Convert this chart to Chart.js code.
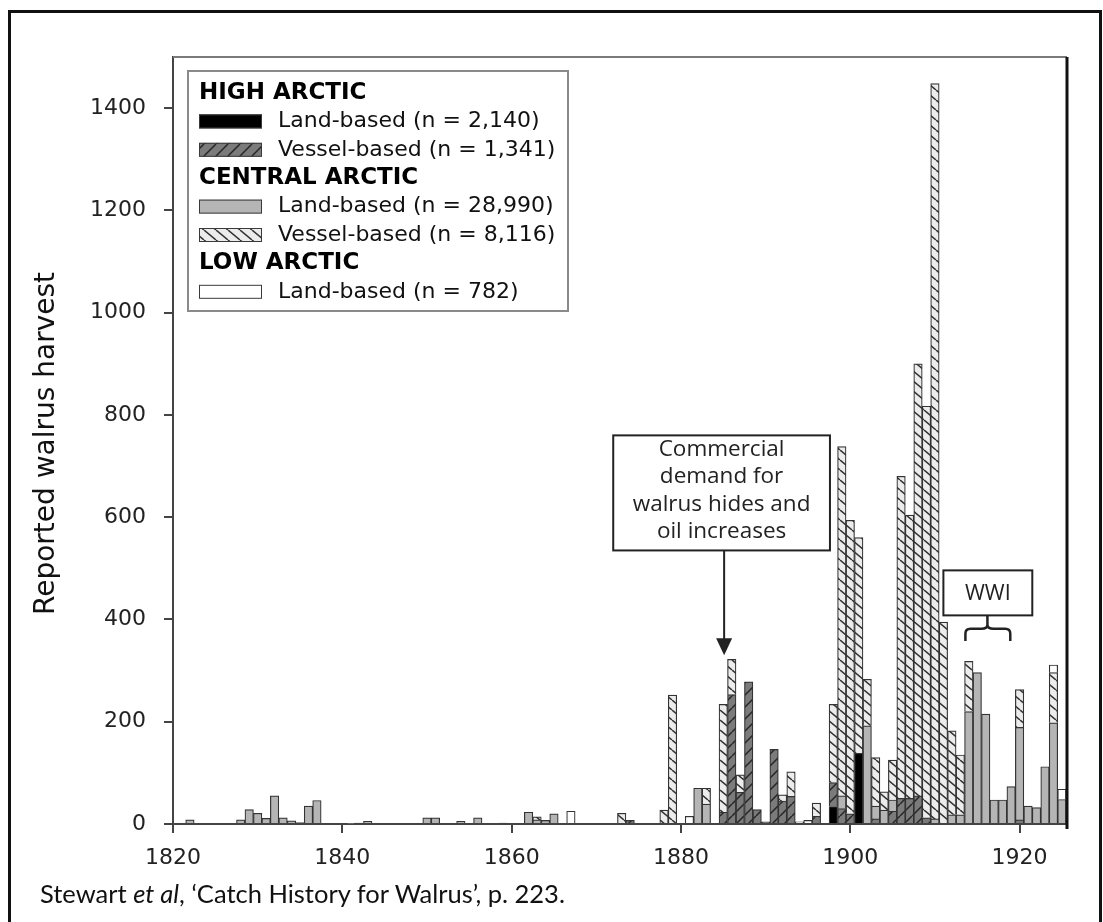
<!DOCTYPE html>
<html>
<head>
<meta charset="utf-8">
<script src="https://cdn.jsdelivr.net/npm/chart.js@4.4.1/dist/chart.umd.min.js"></script>
<style>
  html, body { margin: 0; padding: 0; background: #fff; overflow: hidden; }
  #frame { position: absolute; left: 8px; top: 10px; width: 1094px; height: 1000px; border: 3px solid #111; box-sizing: border-box; }
  #wrap { position: absolute; left: 0; top: 0; width: 1103px; height: 922px; }
  #caption { position: absolute; left: 40px; top: 878px; line-height: 30px; font-family: Lato, sans-serif; font-size: 25.5px; color: #111; white-space: nowrap; }
</style>
</head>
<body>
<div id="frame"></div>
<div id="wrap"><canvas id="chart"></canvas></div>
<div id="caption">Stewart <i>et al</i>, ‘Catch History for Walrus’, p. 223.</div>
<script>
// values, one pair of arrays per series
const highLandYears = [1898, 1901];
const highLandValues = [34, 138];

const highVesselYears = [1874, 1885, 1886, 1887, 1888, 1889, 1890, 1891, 1892, 1893, 1896, 1898, 1899, 1900, 1903, 1905, 1906, 1907, 1908, 1909, 1920];
const highVesselValues = [7, 23, 253, 62, 278, 28, 4, 146, 45, 54, 15, 47, 30, 20, 10, 25, 50, 50, 55, 12, 8];

const centralLandYears = [1822, 1828, 1829, 1830, 1831, 1832, 1833, 1834, 1835, 1836, 1837, 1841, 1842, 1843, 1850, 1851, 1854, 1856, 1859, 1862, 1863, 1864, 1865, 1882, 1883, 1899, 1902, 1903, 1904, 1905, 1910, 1912, 1913, 1914, 1915, 1916, 1917, 1918, 1919, 1920, 1921, 1922, 1923, 1924, 1925];
const centralLandValues = [8, 8, 28, 21, 11, 55, 12, 6, 3, 35, 46, 1, 2, 5, 12, 12, 5, 12, 2, 23, 8, 7, 20, 70, 39, 25, 192, 25, 27, 22, 10, 18, 18, 220, 296, 215, 47, 47, 73, 181, 35, 32, 112, 198, 48];

const centralVesselYears = [1863, 1873, 1878, 1879, 1883, 1885, 1886, 1887, 1892, 1893, 1896, 1898, 1899, 1900, 1901, 1902, 1903, 1904, 1905, 1906, 1907, 1908, 1909, 1910, 1911, 1912, 1913, 1914, 1920, 1924];
const centralVesselValues = [6, 21, 27, 252, 31, 211, 69, 34, 12, 48, 26, 153, 683, 574, 422, 91, 95, 36, 78, 630, 554, 845, 805, 1438, 395, 164, 117, 98, 74, 98];

const lowLandYears = [1867, 1881, 1894, 1895, 1924, 1925];
const lowLandValues = [25, 15, 4, 7, 15, 20];

const xTickValues = [1820, 1840, 1860, 1880, 1900, 1920];

function makeHatch(bg, line, w, h, forward) {
    const c = document.createElement('canvas');
    c.width = w;
    c.height = h;
    const g = c.getContext('2d');
    g.fillStyle = bg;
    g.fillRect(0, 0, w, h);
    g.strokeStyle = line;
    g.lineWidth = 1.5;
    g.beginPath();
    for (const k of [-1, 0, 1]) {
        if (forward) {
            g.moveTo(k * w, h);
            g.lineTo(k * w + w, 0);
        } else {
            g.moveTo(k * w, 0);
            g.lineTo(k * w + w, h);
        }
    }
    g.stroke();
    return g.createPattern(c, 'repeat');
}

const highVesselFill = makeHatch('#7b7b7b', '#262626', 12, 12, true);
const centralVesselFill = makeHatch('#ececec', '#333333', 12, 10, false);

function points(years, values) {
    return years.map((yr, i) => ({ x: yr, y: values[i] }));
}

const legendRows = [
    { head: 'HIGH ARCTIC' },
    { label: 'Land-based (n = 2,140)', fill: '#000000' },
    { label: 'Vessel-based (n = 1,341)', fill: highVesselFill },
    { head: 'CENTRAL ARCTIC' },
    { label: 'Land-based (n = 28,990)', fill: '#b5b5b5' },
    { label: 'Vessel-based (n = 8,116)', fill: centralVesselFill },
    { head: 'LOW ARCTIC' },
    { label: 'Land-based (n = 782)', fill: '#ffffff' }
];

const commercialLines = ['Commercial', 'demand for', 'walrus hides and', 'oil increases'];

// legend, frame, y title and the two call-outs
const extras = {
    id: 'extras',
    afterDraw(chart) {
        const { ctx, chartArea: ca, scales } = chart;
        const x = scales.x, y = scales.y;
        ctx.save();

        // top and right frame of the plot
        ctx.strokeStyle = '#7a7a7a';
        ctx.lineWidth = 2;
        ctx.beginPath();
        ctx.moveTo(ca.left, ca.top);
        ctx.lineTo(ca.right, ca.top);
        ctx.stroke();
        ctx.strokeStyle = '#111';
        ctx.lineWidth = 3;
        ctx.beginPath();
        ctx.moveTo(ca.right, ca.top);
        ctx.lineTo(ca.right, ca.bottom + 5);
        ctx.stroke();

        // y title
        ctx.save();
        ctx.translate(47, (ca.top + ca.bottom) / 2 + 3);
        ctx.rotate(-Math.PI / 2);
        ctx.fillStyle = '#111';
        ctx.font = '28px "DejaVu Sans"';
        ctx.textAlign = 'center';
        ctx.textBaseline = 'middle';
        ctx.fillText('Reported walrus harvest', 0, 0);
        ctx.restore();

        // legend box
        const bx = ca.left + 15, by = ca.top + 14, bw = 380, bh = 240;
        ctx.fillStyle = '#fff';
        ctx.fillRect(bx, by, bw, bh);
        ctx.strokeStyle = '#8a8a8a';
        ctx.lineWidth = 2;
        ctx.strokeRect(bx, by, bw, bh);
        ctx.textBaseline = 'middle';
        ctx.textAlign = 'left';
        legendRows.forEach((row, i) => {
            const cy = by + 22 + i * 28.4;
            if (row.head) {
                ctx.fillStyle = '#000';
                ctx.font = 'bold 23px "DejaVu Sans"';
                ctx.fillText(row.head, bx + 11, cy);
            } else {
                ctx.fillStyle = row.fill;
                ctx.fillRect(bx + 11, cy - 7, 63, 14);
                ctx.strokeStyle = '#3a3a3a';
                ctx.lineWidth = 1;
                ctx.strokeRect(bx + 11.5, cy - 6.5, 62, 13);
                ctx.fillStyle = '#111';
                ctx.font = '22px "DejaVu Sans"';
                ctx.fillText(row.label, bx + 90, cy);
            }
        });

        // commercial demand call-out
        const cl = x.getPixelForValue(1872.0), cr = x.getPixelForValue(1897.6);
        const ct = y.getPixelForValue(760), cb = y.getPixelForValue(535);
        ctx.fillStyle = '#fff';
        ctx.fillRect(cl, ct, cr - cl, cb - ct);
        ctx.strokeStyle = '#222';
        ctx.lineWidth = 2;
        ctx.strokeRect(cl, ct, cr - cl, cb - ct);
        ctx.fillStyle = '#222';
        ctx.font = '22.5px "Open Sans"';
        ctx.textAlign = 'center';
        commercialLines.forEach((t, i) => {
            ctx.fillText(t, (cl + cr) / 2, ct + 14 + i * 27.5);
        });
        const ax = x.getPixelForValue(1885.1);
        const tip = y.getPixelForValue(330);
        ctx.beginPath();
        ctx.moveTo(ax, cb);
        ctx.lineTo(ax, tip - 14);
        ctx.stroke();
        ctx.beginPath();
        ctx.moveTo(ax - 8, tip - 17);
        ctx.lineTo(ax + 8, tip - 17);
        ctx.lineTo(ax, tip);
        ctx.closePath();
        ctx.fill();

        // WWI call-out
        const wl = x.getPixelForValue(1911.0), wr = x.getPixelForValue(1921.5);
        const wt = y.getPixelForValue(496), wb = y.getPixelForValue(408);
        ctx.fillStyle = '#fff';
        ctx.fillRect(wl, wt, wr - wl, wb - wt);
        ctx.strokeRect(wl, wt, wr - wl, wb - wt);
        ctx.fillStyle = '#222';
        ctx.font = '21.5px "Open Sans"';
        ctx.fillText('WWI', (wl + wr) / 2, (wt + wb) / 2 + 1);

        // brace under the WWI box
        const bl = x.getPixelForValue(1913.6), br = x.getPixelForValue(1918.9);
        const bm = x.getPixelForValue(1916.2);
        const by1 = y.getPixelForValue(382), by2 = y.getPixelForValue(358);
        ctx.lineWidth = 2.5;
        ctx.beginPath();
        ctx.moveTo(bm, wb);
        ctx.lineTo(bm, by1 - 4);
        ctx.quadraticCurveTo(bm, by1, bm - 6, by1);
        ctx.lineTo(bl + 5, by1);
        ctx.quadraticCurveTo(bl, by1, bl, by1 + 5);
        ctx.lineTo(bl, by2);
        ctx.moveTo(bm, by1 - 4);
        ctx.quadraticCurveTo(bm, by1, bm + 6, by1);
        ctx.lineTo(br - 5, by1);
        ctx.quadraticCurveTo(br, by1, br, by1 + 5);
        ctx.lineTo(br, by2);
        ctx.stroke();

        ctx.restore();
    }
};

const tickFont = { family: 'DejaVu Sans', size: 22 };

new Chart(document.getElementById('chart'), {
    type: 'bar',
    data: {
        datasets: [
            { label: 'High Arctic land-based', data: points(highLandYears, highLandValues), backgroundColor: '#000000' },
            { label: 'High Arctic vessel-based', data: points(highVesselYears, highVesselValues), backgroundColor: highVesselFill },
            { label: 'Central Arctic land-based', data: points(centralLandYears, centralLandValues), backgroundColor: '#b5b5b5' },
            { label: 'Central Arctic vessel-based', data: points(centralVesselYears, centralVesselValues), backgroundColor: centralVesselFill },
            { label: 'Low Arctic land-based', data: points(lowLandYears, lowLandValues), backgroundColor: '#ffffff' }
        ]
    },
    options: {
        responsive: true,
        maintainAspectRatio: false,
        animation: false,
        layout: { padding: { top: 57, right: 36, left: 0, bottom: 0 } },
        datasets: {
            bar: { categoryPercentage: 1, barPercentage: 1, borderWidth: 1.2, borderColor: '#333333' }
        },
        plugins: {
            legend: { display: false },
            tooltip: { enabled: false }
        },
        scales: {
            x: {
                type: 'linear',
                min: 1820,
                max: 1925.6,
                stacked: true,
                offset: false,
                grid: { display: true, offset: false, drawOnChartArea: false, drawTicks: true, tickLength: 9, color: '#444', lineWidth: 2 },
                border: { display: true, color: '#444', width: 2 },
                ticks: { font: tickFont, color: '#222', padding: 12, maxRotation: 0, autoSkip: false, callback: v => String(v) },
                afterBuildTicks: s => { s.ticks = xTickValues.map(v => ({ value: v })); },
                afterFit: s => { s.height = 98; }
            },
            y: {
                min: 0,
                max: 1500,
                stacked: true,
                grid: { display: true, drawOnChartArea: false, drawTicks: true, tickLength: 9, color: '#444', lineWidth: 2 },
                border: { display: true, color: '#444', width: 2 },
                ticks: { font: tickFont, color: '#222', padding: 18, stepSize: 200, callback: v => String(v) },
                afterBuildTicks: s => { s.ticks = s.ticks.filter(t => t.value % 200 === 0); },
                afterFit: s => { s.width = 173; }
            }
        }
    },
    plugins: [extras]
});
</script>
</body>
</html>
